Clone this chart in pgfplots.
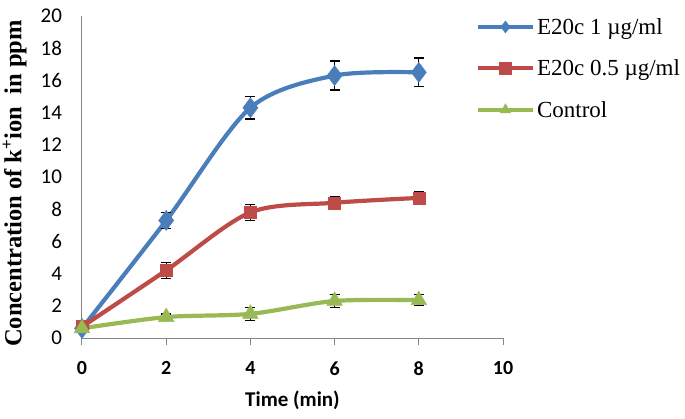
\documentclass[border=0pt]{standalone}
\usepackage{pgfplots}
\pgfplotsset{compat=1.18}
\usepackage{fontspec}
\setmainfont{Liberation Serif}
\newfontfamily\calibri{Carlito}
\definecolor{xblue}{HTML}{4A7EBB}
\definecolor{xred}{HTML}{BE4B48}
\definecolor{xgreen}{HTML}{98B954}
\definecolor{axgray}{HTML}{868686}
\begin{document}
\begin{tikzpicture}
\begin{axis}[
  scale only axis,
  width=421pt, height=322pt,
  xmin=0, xmax=10, ymin=0, ymax=20,
  xtick={0,2,...,10}, ytick={0,2,...,20},
  axis x line=bottom, axis y line=left,
  axis line style={-, draw=axgray, line width=1pt},
  x tick style={draw=axgray, line width=1pt},
  y tick style={draw=none},
  xtick align=outside,
  major tick length=7pt,
  /pgf/number format/assume math mode=true,
  xticklabel style={font=\calibri\bfseries\fontsize{20}{24}\selectfont, yshift=-13pt},
  yticklabel style={font=\calibri\fontsize{21}{24}\selectfont, xshift=-13pt},
  xlabel={Time (min)},
  ylabel={Concentration of k\textsuperscript{+}ion\ \ in ppm},
  xlabel style={font=\calibri\bfseries\fontsize{21}{24}\selectfont, at={(axis description cs:0.5,0)}, anchor=center, yshift=-62pt},
  ylabel style={font=\bfseries\fontsize{24.5}{28}\selectfont, at={(axis description cs:-0.16,0.48)}, anchor=center},
  legend style={draw=none, fill=none, font=\fontsize{23}{26}\selectfont, at={(0.935,1.0)}, anchor=north west, row sep=20pt, inner sep=0pt},
  legend cell align=left,
  legend image code/.code={
    \draw[#1, mark=none] (0pt,0pt) -- (55pt,0pt);
    \draw[#1, only marks, mark size=6pt] plot coordinates {(27.5pt,0pt)};
  },
  clip=false,
  error bars/error bar style={black, line width=1.3pt, solid},
  error bars/error mark options={black, rotate=90, mark size=5pt, line width=1.3pt},
]
\addplot[xblue, line width=4.2pt, smooth, tension=0.5, mark=diamond*, mark size=10pt, mark options={fill=xblue, draw=xblue, line width=0.5pt},
  error bars/.cd, y dir=both, y explicit]
  coordinates {(0,0.6)+-(0,0) (2,7.3)+-(0,0.5) (4,14.3)+-(0,0.7) (6,16.3)+-(0,0.9) (8,16.5)+-(0,0.9)};
\addlegendentry{E20c 1 \textmu g/ml}
\addplot[xred, line width=4.2pt, smooth, tension=0.5, mark=square*, mark size=6pt, mark options={fill=xred, draw=xred, line width=0.5pt},
  error bars/.cd, y dir=both, y explicit]
  coordinates {(0,0.7)+-(0,0) (2,4.2)+-(0,0.5) (4,7.8)+-(0,0.5) (6,8.4)+-(0,0.4) (8,8.7)+-(0,0.4)};
\addlegendentry{E20c 0.5 \textmu g/ml}
\addplot[xgreen, line width=4.2pt, smooth, tension=0.5, mark=triangle*, mark size=9pt, mark options={fill=xgreen, draw=xgreen, line width=0.5pt},
  error bars/.cd, y dir=both, y explicit]
  coordinates {(0,0.6)+-(0,0) (2,1.3)+-(0,0.2) (4,1.5)+-(0,0.4) (6,2.3)+-(0,0.4) (8,2.35)+-(0,0.35)};
\addlegendentry{Control}
\end{axis}
\pgfresetboundingbox
\path[use as bounding box] (-82pt,-80pt) rectangle (603pt,338pt);
\end{tikzpicture}
\end{document}
